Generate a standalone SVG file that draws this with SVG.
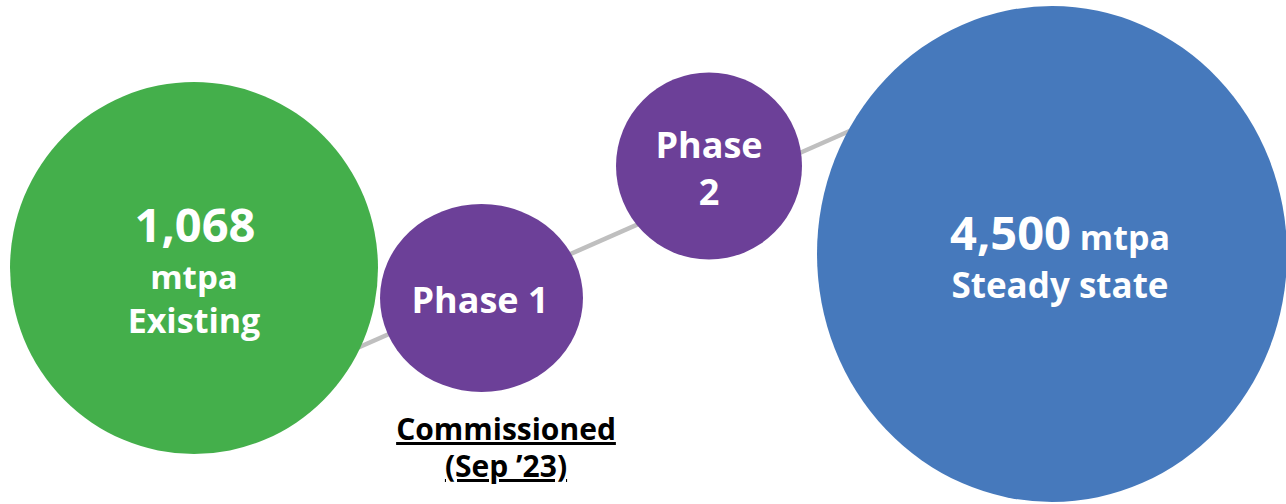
<svg xmlns="http://www.w3.org/2000/svg" width="1286" height="504" viewBox="0 0 1286 504">
  <style>
    .lbl { font-family: "Open Sans", "Noto Sans", "Liberation Sans", sans-serif; font-weight: 700; fill: #ffffff; text-anchor: middle; }
    .note { font-family: "Open Sans", "Noto Sans", "Liberation Sans", sans-serif; font-weight: 700; fill: #000000; text-anchor: middle; text-decoration: underline; }
  </style>
  <rect width="1286" height="504" fill="#ffffff"/>

  <!-- connector running behind the bubbles -->
  <g id="connectors">
    <line x1="330" y1="360" x2="870" y2="122" stroke="#BFBFBF" stroke-width="4.5"/>
  </g>

  <g id="existing">
    <ellipse cx="194" cy="268" rx="184" ry="186" fill="#44AF4B"/>
    <text class="lbl" x="195" y="242" font-size="47">1,068</text>
    <text class="lbl" x="194" y="289" font-size="33">mtpa</text>
    <text class="lbl" x="194" y="333" font-size="34">Existing</text>
  </g>

  <g id="phase1">
    <ellipse cx="481.5" cy="298" rx="101.5" ry="94" fill="#6C4098"/>
    <text class="lbl" x="480" y="313" font-size="36">Phase 1</text>
  </g>

  <g id="phase2">
    <ellipse cx="709" cy="166" rx="93" ry="93.5" fill="#6C4098"/>
    <text class="lbl" x="709" y="158" font-size="36">Phase</text>
    <text class="lbl" x="709" y="205" font-size="36">2</text>
  </g>

  <g id="steady">
    <ellipse cx="1052" cy="254" rx="235" ry="248" fill="#4679BC"/>
    <text class="lbl" x="1060" y="250"><tspan font-size="47">4,500</tspan><tspan font-size="34"> mtpa</tspan></text>
    <text class="lbl" x="1060" y="298" font-size="35">Steady state</text>
  </g>

  <g id="commissioned">
    <text class="note" x="506" y="440" font-size="30">Commissioned</text>
    <text class="note" x="506" y="477" font-size="30">(Sep ’23)</text>
  </g>
</svg>
